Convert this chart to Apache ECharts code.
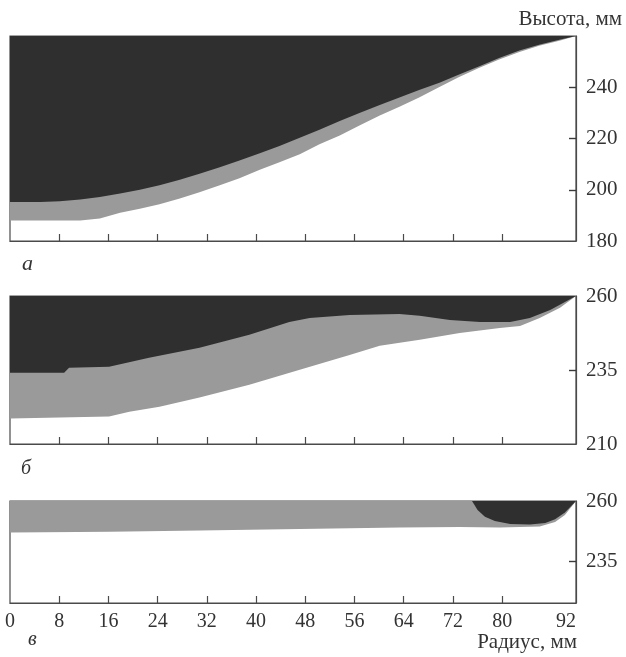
<!DOCTYPE html>
<html><head><meta charset="utf-8">
<script src="https://cdn.jsdelivr.net/npm/echarts@6/dist/echarts.min.js"></script>
<style>html,body{margin:0;padding:0;background:#fff}#c{width:626px;height:657px}</style>
</head><body><div id="c"></div>
<script>
// X axis (radius, mm)
const xTickValues = [8,16,24,32,40,48,56,64,72,80];
const xLabelValues = [0,8,16,24,32,40,48,56,64,72,80,92];

// Panel а
const aRadius = [0,4.9,8.1,11.4,14.6,17.9,21.1,24.3,27.6,30.8,34.1,37.3,40.6,43.8,47.1,50.3,53.6,56.8,60.1,63.3,66.5,69.8,73.0,76.3,79.5,82.8,86.0,89.3,92];
const aBlack  = [195.2,195.2,195.5,196.2,197.2,198.5,200.0,201.8,203.9,206.2,208.8,211.4,214.2,217.1,220.3,223.4,226.8,230.0,233.1,236.0,238.9,241.8,245.0,248.2,251.4,254.3,256.6,258.5,260];
const aGrey   = [188,188,188,188,188.8,191.0,192.6,194.3,196.6,199.0,201.8,204.5,207.8,210.7,213.9,217.8,221.2,225.1,229.0,232.4,236.0,240.1,244.0,247.6,250.8,253.8,256.2,258.1,260];
const aYLabels = [180,200,220,240];

// Panel б
const bBlackRadius = [0,8.8,9.6,16.1,22.6,30.8,38.9,45.4,48.7,55.2,63.3,66.6,71.5,76.4,81.3,84.5,87.8,92];
const bBlack       = [234.1,234.1,235.8,236.1,239.1,242.5,246.9,251.2,252.6,253.6,253.9,253.3,251.9,251.2,251.2,252.6,255.3,260];
const bGreyRadius  = [0,16.1,19.4,24.3,30.8,38.9,47.1,55.2,60.1,66.6,73.1,79.6,82.9,86.1,89.4,92];
const bGrey        = [218.6,219.3,220.9,222.6,225.7,230.0,235.1,240.1,243.2,245.2,247.5,249.2,249.9,252.6,256.0,260];
const bYLabels = [210,235,260];

// Panel в
const cBlackRadius = [75.1,76.0,77.2,78.8,81.3,84.5,87.0,88.6,90.2,92];
const cBlack       = [260,256.3,253.5,251.8,250.5,250.3,250.9,252.5,255.3,260];
const cGreyRadius  = [0,16.2,30.8,47.1,63.3,73.1,79.6,86.1,88.6,90.2,92];
const cGrey        = [247.0,247.3,247.9,248.5,249.1,249.3,249.1,249.5,251.4,254.2,260];
const cYLabels = [235,260];

const zip = (xs, ys) => xs.map((x, i) => [x, ys[i]]);

const FONT = '"Liberation Serif", "DejaVu Serif", serif';
const AXC = '#4a4a4a';
const BLACK = '#2f2f2f';
const GREY = '#9a9a9a';

const grids = [
  {left:10, right:50, top:36, height:205},
  {left:10, right:50, top:296, height:148},
  {left:10, right:50, top:501, height:102}
];

function xAxis(i, showLabels){
  return {
    type:'value', gridIndex:i, min:0, max:92,
    axisLine:{show:true, onZero:false, lineStyle:{color:AXC, width:1.2}},
    axisTick:{show:true, inside:true, length:7, customValues:xTickValues, lineStyle:{color:AXC, width:1.2}},
    axisLabel:{show:showLabels, customValues:xLabelValues, margin:9, color:'#333', fontFamily:FONT, fontSize:20, alignMaxLabel:'right'},
    splitLine:{show:false}
  };
}
function yAxis(i, min, labels){
  return {
    type:'value', gridIndex:i, position:'right', min:min, max:260,
    axisLine:{show:true, onZero:false, lineStyle:{color:AXC, width:1.2}},
    axisTick:{show:true, inside:true, length:7, customValues:labels.filter(v => v > min && v < 260), lineStyle:{color:'#3a3a3a', width:1.4}},
    axisLabel:{customValues:labels, margin:10, color:'#333', fontFamily:FONT, fontSize:21},
    splitLine:{show:false}
  };
}
function area(i, data, color, z){
  return {type:'line', xAxisIndex:i, yAxisIndex:i, data:data, showSymbol:false, symbol:'none',
    lineStyle:{width:0}, areaStyle:{color:color, opacity:1, origin:'end'}, z:z, silent:true};
}

const chart = echarts.init(document.getElementById('c'), null, {renderer:'canvas'});
chart.setOption({
  animation:false,
  backgroundColor:'#fff',
  grid: grids.map(g => Object.assign({show:true, borderColor:AXC, borderWidth:1.2, backgroundColor:'transparent'}, g)),
  xAxis:[xAxis(0,false), xAxis(1,false), xAxis(2,true)],
  yAxis:[yAxis(0,180,aYLabels), yAxis(1,210,bYLabels), yAxis(2,218,cYLabels)],
  series:[
    area(0, zip(aRadius, aGrey), GREY, 1),
    area(0, zip(aRadius, aBlack), BLACK, 2),
    area(1, zip(bGreyRadius, bGrey), GREY, 1),
    area(1, zip(bBlackRadius, bBlack), BLACK, 2),
    area(2, zip(cGreyRadius, cGrey), GREY, 1),
    area(2, zip(cBlackRadius, cBlack), BLACK, 2)
  ],
  graphic:[
    {type:'text', right:4, top:9, style:{text:'Высота, мм', font:'21px '+FONT, fill:'#333'}},
    {type:'text', right:49, top:632, style:{text:'Радиус, мм', font:'21px '+FONT, fill:'#333'}},
    {type:'text', left:22, top:253, style:{text:'а', font:'italic 22px '+FONT, fill:'#333'}},
    {type:'text', left:21, top:459, style:{text:'б', font:'italic 20px '+FONT, fill:'#333'}},
    {type:'text', left:28, top:630, style:{text:'в', font:'italic 20px '+FONT, fill:'#333'}}
  ]
});
</script></body></html>
